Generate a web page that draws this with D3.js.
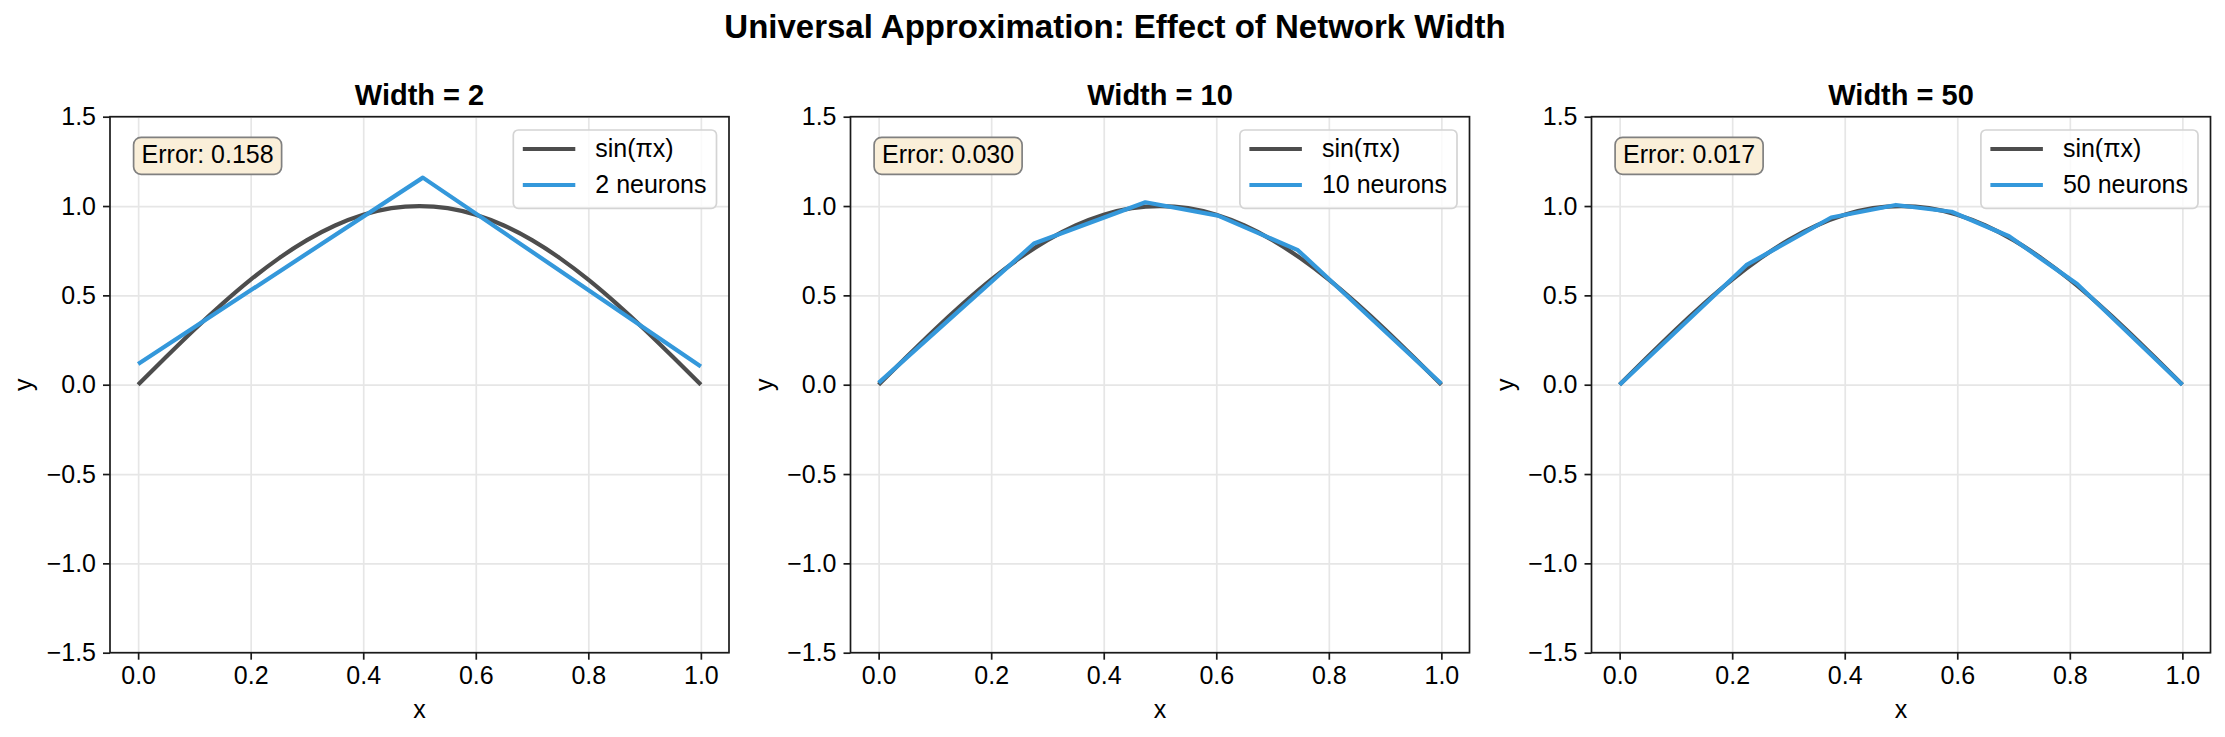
<!DOCTYPE html>
<html>
<head>
<meta charset="utf-8">
<script src="https://cdn.jsdelivr.net/npm/d3@7"></script>
<style>
  body { margin: 0; background: #fff; }
  svg { display: block; font-family: "Liberation Sans", Arial, sans-serif; }
</style>
</head>
<body>
<svg id="chart" width="2225" height="737"></svg>
<script>
// data
const widths = [2, 10, 50];
const errors = ["0.158", "0.030", "0.017"];
const xTicks = [0, 0.2, 0.4, 0.6, 0.8, 1.0];
const yTicks = [-1.5, -1.0, -0.5, 0, 0.5, 1.0, 1.5];

// target curve sin(pi x), sampled every 0.05
const sinX = [0, 0.05, 0.1, 0.15, 0.2, 0.25, 0.3, 0.35, 0.4, 0.45, 0.5,
              0.55, 0.6, 0.65, 0.7, 0.75, 0.8, 0.85, 0.9, 0.95, 1.0];
const sinY = [0, 0.156, 0.309, 0.454, 0.588, 0.707, 0.809, 0.891, 0.951, 0.988, 1.0,
              0.988, 0.951, 0.891, 0.809, 0.707, 0.588, 0.454, 0.309, 0.156, 0];

// network outputs (piecewise linear, kinks only)
const fit2X = [0, 0.506, 1.0];
const fit2Y = [0.116, 1.159, 0.102];
const fit10X = [0, 0.276, 0.474, 0.603, 0.745, 1.0];
const fit10Y = [0.010, 0.790, 1.021, 0.946, 0.753, 0.005];
const fit50X = [0, 0.225, 0.376, 0.491, 0.590, 0.692, 0.813, 1.0];
const fit50Y = [0.0, 0.669, 0.936, 1.006, 0.968, 0.831, 0.564, 0.0];

const fitsX = [fit2X, fit10X, fit50X];
const fitsY = [fit2Y, fit10Y, fit50Y];

const svg = d3.select("#chart");
const W = 619, H = 536, plotTop = 116.7;
const lefts = [110, 850.5, 1591.5];
const fs = 25;
const darkLine = "#4d4d4d", blue = "#3498db";

svg.append("text")
  .attr("x", 1115).attr("y", 38)
  .attr("text-anchor", "middle")
  .attr("font-size", 33).attr("font-weight", "bold")
  .text("Universal Approximation: Effect of Network Width");

const x = d3.scaleLinear().domain([-0.05, 1.05]).range([0, W]);
const y = d3.scaleLinear().domain([-1.5, 1.5]).range([H, 0]);
const line = d3.line().x(d => x(d[0])).y(d => y(d[1]));
const smooth = d3.line().x(d => x(d[0])).y(d => y(d[1])).curve(d3.curveNatural);

widths.forEach((wd, i) => {
  const g = svg.append("g").attr("transform", `translate(${lefts[i]},${plotTop})`);

  // grid
  g.append("g").attr("transform", `translate(0,${H})`)
    .call(d3.axisBottom(x).tickValues(xTicks).tickSize(-H).tickFormat(""))
    .call(a => a.select(".domain").remove())
    .selectAll("line").attr("stroke", "#e6e6e6").attr("stroke-width", 1.7);
  g.append("g")
    .call(d3.axisLeft(y).tickValues(yTicks).tickSize(-W).tickFormat(""))
    .call(a => a.select(".domain").remove())
    .selectAll("line").attr("stroke", "#e6e6e6").attr("stroke-width", 1.7);

  // curves
  g.append("path")
    .datum(sinX.map((v, k) => [v, sinY[k]]))
    .attr("d", smooth).attr("fill", "none")
    .attr("stroke", darkLine).attr("stroke-width", 4.2);
  g.append("path")
    .datum(fitsX[i].map((v, k) => [v, fitsY[i][k]]))
    .attr("d", line).attr("fill", "none")
    .attr("stroke", blue).attr("stroke-width", 4.2)
    .attr("stroke-linejoin", "round");

  // spines
  g.append("rect").attr("width", W).attr("height", H)
    .attr("fill", "none").attr("stroke", "#1a1a1a").attr("stroke-width", 1.7);

  // axes
  const xa = g.append("g").attr("transform", `translate(0,${H})`)
    .call(d3.axisBottom(x).tickValues(xTicks).tickFormat(d3.format(".1f"))
      .tickSize(7).tickPadding(7).tickSizeOuter(0));
  const ya = g.append("g")
    .call(d3.axisLeft(y).tickValues(yTicks).tickFormat(d3.format(".1f"))
      .tickSize(7).tickPadding(7).tickSizeOuter(0));
  [xa, ya].forEach(a => {
    a.select(".domain").remove();
    a.selectAll("line").attr("stroke", "#1a1a1a").attr("stroke-width", 1.7);
    a.selectAll("text").attr("font-size", fs).attr("fill", "#000")
      .attr("font-family", "Liberation Sans, Arial, sans-serif");
  });

  g.append("text").attr("x", W / 2).attr("y", H + 65.5)
    .attr("text-anchor", "middle").attr("font-size", fs).text("x");
  g.append("text").attr("transform", `translate(-78,${H / 2}) rotate(-90)`)
    .attr("text-anchor", "middle").attr("font-size", fs).text("y");

  g.append("text").attr("x", W / 2).attr("y", -11.7)
    .attr("text-anchor", "middle").attr("font-size", 29).attr("font-weight", "bold")
    .text(`Width = ${wd}`);

  // error box
  const eb = g.append("g");
  const et = eb.append("text").attr("x", 31.6).attr("y", 46.6)
    .attr("font-size", fs).text(`Error: ${errors[i]}`);
  const ew = et.node().getComputedTextLength();
  eb.insert("rect", "text")
    .attr("x", 23.6).attr("y", 20.6).attr("width", ew + 16).attr("height", 37)
    .attr("rx", 7.5).attr("fill", "#faefd9")
    .attr("stroke", "#808080").attr("stroke-width", 1.7);

  // legend
  const lg = g.append("g");
  const labels = ["sin(πx)", `${wd} neurons`];
  const colors = [darkLine, blue];
  const texts = labels.map((lab, k) => lg.append("text")
    .attr("y", 32.3 + 8.5 + k * 36).attr("font-size", fs).text(lab));
  const tw = d3.max(texts, t => t.node().getComputedTextLength());
  const lw = 10 + 52 + 20 + tw + 10;
  const lx = W - 12.5 - lw;
  lg.insert("rect", "text")
    .attr("x", lx).attr("y", 13.3).attr("width", lw).attr("height", 78.3)
    .attr("rx", 5).attr("fill", "#fff").attr("fill-opacity", 0.8)
    .attr("stroke", "#d4d4d4").attr("stroke-width", 1.7);
  texts.forEach((t, k) => {
    t.attr("x", lx + 82);
    lg.append("line")
      .attr("x1", lx + 9.5).attr("x2", lx + 62)
      .attr("y1", 32.3 + k * 36).attr("y2", 32.3 + k * 36)
      .attr("stroke", colors[k]).attr("stroke-width", 4.2);
  });
});
</script>
</body>
</html>
